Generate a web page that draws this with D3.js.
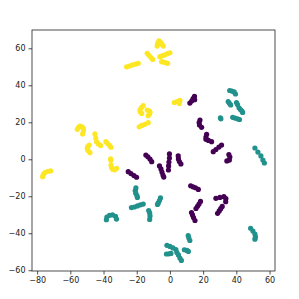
<!doctype html>
<html lang="en">
<head>
  <meta charset="utf-8">
  <title>scatter</title>
  <script src="https://d3js.org/d3.v7.min.js"></script>
  <style>
  body { margin: 0; background: #fff; }
  .tick text { font-family: "DejaVu Sans", sans-serif; font-size: 8px; fill: #222; }
  .tick line { stroke: #222; stroke-width: 0.8; }
  </style>
</head>
<body>
<script>
  // points, one line per little chain
  var purplePts = [
    [12.0,30.4],[13.1,31.5],[13.95,32.8],[14.8,34.0],[14.9,32.2],
    [18.1,21.2],[17.6,19.9],[17.8,18.5],[19.1,17.3],
    [22.1,13.5],[21.7,12.0],[21.7,10.8],[23.2,10.2],[25.1,9.5],
    [26.1,4.1],[27.7,5.3],[29.5,6.6],[31.1,7.7],
    [35.5,2.6],[36.1,1.2],[35.8,-0.4],[34.3,-0.9],
    [-14.5,2.3],[-13.3,1.35],[-12.0,0.16],[-11.0,-1.3],
    [-0.3,2.9],[-0.3,0.7],[-0.6,-1.5],[-0.8,-3.6],[-0.9,-5.8],
    [5.0,1.8],[5.1,0.2],[5.7,-1.2],[6.6,-2.5],
    [-6.3,-3.6],[-5.4,-5.2],[-4.8,-6.9],[-4.2,-8.5],[-3.7,-9.6],
    [-25.1,-6.7],[-23.5,-7.7],[-21.7,-8.8],[-20.1,-9.7],
    [12.5,-14.3],[13.9,-14.9],[15.4,-15.4],[17.1,-16.3],
    [18.4,-22.8],[17.5,-24.2],[16.6,-25.4],[15.7,-26.6],
    [13.0,-28.8],[13.6,-30.1],[14.2,-31.5],[15.1,-33.1],
    [27.7,-21.1],[30.1,-20.6],[32.5,-20.2],[33.7,-21.2],[33.6,-22.9],
    [31.5,-25.5],[30.6,-26.7],[29.7,-27.9],[28.7,-29.2]
  ];
  var tealPts = [
    [36.0,37.2],[37.3,36.9],[38.7,36.4],[39.5,35.3],
    [35.1,31.2],[35.8,30.3],[36.6,29.4],
    [40.1,30.7],[40.7,29.6],
    [41.6,27.8],[42.5,26.9],[43.4,26.1],[43.8,25.3],
    [30.4,22.4],[30.7,21.9],
    [37.8,22.7],[39.2,22.3],[40.7,21.9],[41.9,21.5],
    [51.2,6.1],[53.0,3.9],[54.8,1.8],[56.0,-0.4],[56.9,-2.0],
    [-20.5,-15.5],[-20.9,-16.9],[-20.6,-18.3],[-19.9,-19.6],[-19.6,-20.6],
    [-23.2,-26.1],[-21.4,-25.8],[-19.6,-25.2],[-17.8,-24.6],[-16.1,-24.2],
    [-12.8,-27.7],[-12.2,-29.0],[-12.0,-30.6],[-12.2,-32.5],
    [-5.7,-20.9],[-6.3,-22.3],[-7.0,-23.6],[-7.5,-24.4],
    [-38.3,-32.7],[-38.0,-31.2],[-36.4,-30.3],[-34.6,-30.1],[-32.8,-30.8],[-32.2,-32.3],
    [48.6,-37.3],[50.0,-38.8],[51.2,-40.4],[51.5,-42.0],[51.2,-43.2],
    [11.0,-41.2],[11.4,-42.5],[12.0,-43.9],
    [-1.8,-46.5],[0,-47.1],[1.8,-47.9],[3.6,-48.8],
    [-2.1,-51.2],[-0.6,-51.1],[0.6,-50.9],
    [4.2,-50.4],[5.1,-51.7],[6.0,-53.4],[6.9,-54.7],
    [8.7,-48.9],[10.2,-49.3],[11.1,-49.8]
  ];
  var yellowPts = [
    [-7.7,61.2],[-7.5,62.0],[-7.2,62.9],[-6.6,64.1],[-6.0,63.5],[-5.4,62.9],[-4.7,62.0],[-4.0,61.2],
    [-13.7,57.3],[-12.65,56.2],[-11.45,55.0],[-10.4,54.0],
    [-6.0,55.5],[-4.5,56.0],[-3.0,56.5],[-1.5,57.1],[0,57.6],
    [-5.0,52.8],[-3.9,52.6],[-2.7,52.3],[-1.4,51.9],
    [-26.1,50.0],[-24.4,50.4],[-22.6,51.0],[-20.8,51.5],[-19.1,51.9],
    [2.6,30.7],[4.2,31.2],[6.0,31.8],[5.7,30.1],
    [-16.1,29.0],[-17.2,28.0],[-18.1,26.6],[-17.8,25.5],[-17.0,24.8],
    [-13.7,26.6],[-12.3,26.1],[-12.0,25.4],[-12.3,24.5],[-13.1,23.6],
    [-18.5,17.6],[-16.9,18.3],[-15.1,18.9],[-13.1,19.8],
    [-55.8,16.2],[-55.1,17.2],[-54.2,18.0],[-53.0,17.6],[-52.2,16.8],[-52.1,15.3],[-52.6,13.7],
    [-45.2,13.7],[-44.7,11.5],[-44.2,9.5],[-43.1,8.3],[-41.7,7.4],
    [-48.6,7.7],[-49.5,6.8],[-49.8,5.9],[-49.4,4.8],[-48.2,3.6],
    [-38.6,9.5],[-37.5,8.5],[-36.4,7.5],[-35.5,6.5],
    [-35.7,0.3],[-35.6,-0.5],
    [-35.5,-3.1],[-35.2,-4.4],[-34.5,-5.4],[-33.3,-5.7],[-32.1,-4.9],
    [-76.7,-9.4],[-76.2,-8.2],[-75.3,-7.2],[-73.8,-6.6],[-71.9,-6.3]
  ];
  var xTicks = [-80, -60, -40, -20, 0, 20, 40, 60];
  var yTicks = [-60, -40, -20, 0, 20, 40, 60];
  var colours = ["#440154", "#21918c", "#fde725"];

  var W = 299, H = 299;
  // plot box in pixels (not "top": that name is taken by window.top)
  var mLeft = 32, mRight = 275, mTop = 30, mBottom = 271;

  var x = d3.scaleLinear().domain([-83.1, 63.3]).range([mLeft, mRight]);
  var y = d3.scaleLinear().domain([-60.4, 69.9]).range([mBottom, mTop]);

  var svg = d3.select("body").append("svg")
      .attr("width", W)
      .attr("height", H);

  function fmt(d) { return d < 0 ? "\u2212" + Math.abs(d) : String(d); }

  // points, in class order
  var groups = [purplePts, tealPts, yellowPts];
  groups.forEach(function(pts, i) {
    svg.append("g").selectAll("circle")
        .data(pts)
      .enter().append("circle")
        .attr("cx", function(d) { return x(d[0]); })
        .attr("cy", function(d) { return y(d[1]); })
        .attr("r", 2.6)
        .attr("fill", colours[i]);
  });

  // axes
  svg.append("g")
      .attr("transform", "translate(0," + mBottom + ")")
      .call(d3.axisBottom(x).tickValues(xTicks).tickFormat(fmt).tickSize(3.5).tickPadding(3))
      .call(function(g) { g.select(".domain").remove(); });
  svg.append("g")
      .attr("transform", "translate(" + mLeft + ",0)")
      .call(d3.axisLeft(y).tickValues(yTicks).tickFormat(fmt).tickSize(3.5).tickPadding(3))
      .call(function(g) { g.select(".domain").remove(); });

  // frame
  svg.append("rect")
      .attr("x", mLeft).attr("y", mTop)
      .attr("width", mRight - mLeft).attr("height", mBottom - mTop)
      .attr("fill", "none")
      .attr("stroke", "#222")
      .attr("stroke-width", 0.8);
</script>
</body>
</html>
